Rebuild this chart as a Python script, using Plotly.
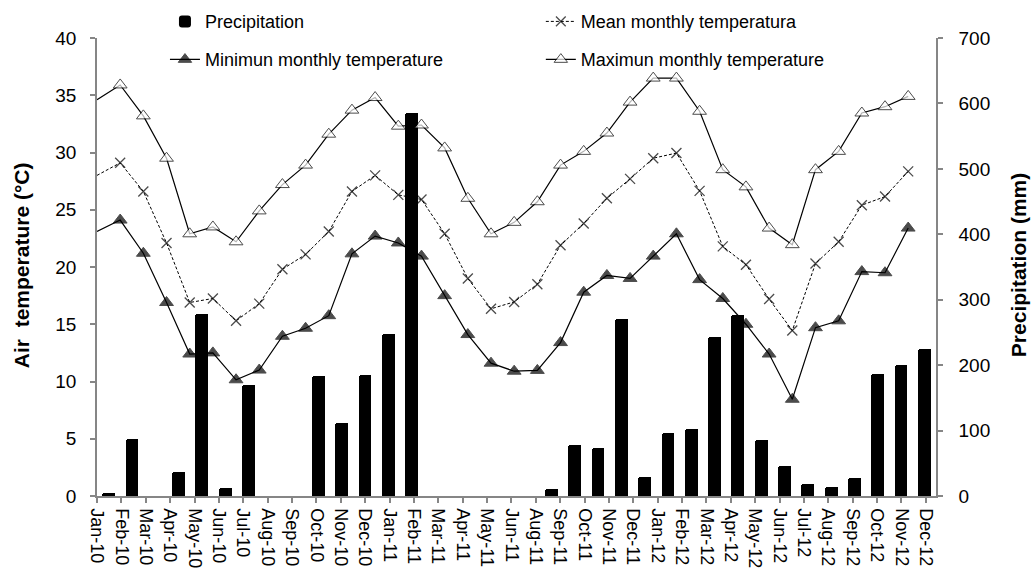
import numpy as np
import plotly.graph_objects as go

# ---- data (36 months, Jan-10 .. Dec-12) ----
months = ["Jan-10", "Feb-10", "Mar-10", "Apr-10", "May-10", "Jun-10", "Jul-10", "Aug-10",
          "Sep-10", "Oct-10", "Nov-10", "Dec-10", "Jan-11", "Feb-11", "Mar-11", "Apr-11",
          "May-11", "Jun-11", "Jul-11", "Aug-11", "Sep-11", "Oct-11", "Nov-11", "Dec-11",
          "Jan-12", "Feb-12", "Mar-12", "Apr-12", "May-12", "Jun-12", "Jul-12", "Aug-12",
          "Sep-12", "Oct-12", "Nov-12", "Dec-12"]

precipitation = [5, 87, 0, 36, 278, 12, 169, 0, 0, 184, 111, 185,
                 248, 585, 0, 0, 0, 0, 0, 10, 78, 74, 271, 29,
                 97, 102, 243, 276, 85, 46, 18, 14, 27, 186, 200, 224]

t_mean = [28.0, 29.1, 26.6, 22.1, 16.9, 17.25, 15.3, 16.8, 19.8, 21.1, 23.1, 26.6,
          28.0, 26.3, 25.9, 22.9, 19.0, 16.35, 16.95, 18.5, 21.9, 23.8, 26.0, 27.7,
          29.5, 29.95, 26.65, 21.8, 20.2, 17.2, 14.45, 20.3, 22.2, 25.4, 26.15, 28.35]

t_min = [23.1, 24.1, 21.2, 16.9, 12.4, 12.5, 10.15, 11.0, 13.95, 14.65, 15.75, 21.15,
         22.7, 22.1, 20.95, 17.5, 14.1, 11.6, 10.9, 10.97, 13.4, 17.8, 19.26, 19.0,
         20.95, 22.9, 18.9, 17.25, 15.0, 12.4, 8.45, 14.7, 15.3, 19.6, 19.5, 23.4]

t_max = [34.6, 35.9, 33.2, 29.5, 22.9, 23.5, 22.2, 24.9, 27.2, 28.9, 31.6, 33.7,
         34.8, 32.3, 32.4, 30.4, 26.0, 22.9, 23.9, 25.7, 28.9, 30.1, 31.7, 34.4,
         36.5, 36.5, 33.6, 28.5, 27.0, 23.4, 21.95, 28.5, 30.1, 33.45, 34.0, 34.9]

# axis labels as printed on the original (Jul-11 label absent)
tick_labels = ["Jan-10", "Feb-10", "Mar-10", "Apr-10", "May-10", "Jun-10", "Jul-10", "Aug-10",
               "Sep-10", "Oct-10", "Nov-10", "Dec-10", "Jan-11", "Feb-11", "Mar-11", "Apr-11",
               "May-11", "Jun-11", "Aug-11", "Sep-11", "Oct-11", "Nov-11", "Dec-11", "Jan-12",
               "Feb-12", "Mar-12", "Apr-12", "May-12", "Jun-12", "Jul-12", "Aug-12", "Sep-12",
               "Oct-12", "Nov-12", "Dec-12"]

# ---- positions via axis scales ----
n = len(months)
idx = np.arange(n)
bar_x = idx + 0.5                      # bars centred in their category (x axis: 0..36)
LABEL_SPAN = 34.42                     # label axis spans this many label steps
label_step = n / LABEL_SPAN
label_pos = np.arange(len(tick_labels)) * label_step
LINE_SPAN = 36.2                       # line axis (x2) range

FONT = "Liberation Sans, Arial, sans-serif"
AX = "#868686"
mk_sizes = [0] + [12] * (n - 1)
x_sizes = [0] + [10] * (n - 1)

fig = go.Figure()

fig.add_trace(go.Bar(
    x=bar_x, y=precipitation, name="Precipitation",
    marker=dict(color="black", line=dict(width=0), cornerradius=2),
    width=0.55, xaxis="x", yaxis="y", legend="legend", showlegend=True,
))

fig.add_trace(go.Scatter(
    x=idx, y=t_mean, name="Mean monthly temperatura", mode="lines+markers",
    line=dict(color="black", width=1, dash="3px,2px"),
    marker=dict(symbol="x-thin", size=x_sizes, line=dict(color="black", width=1.3)),
    xaxis="x2", yaxis="y2", legend="legend2", showlegend=True,
))

fig.add_trace(go.Scatter(
    x=idx, y=t_min, name="Minimun monthly temperature", mode="lines+markers",
    line=dict(color="black", width=1.2),
    marker=dict(symbol="triangle-up", size=mk_sizes, color="black",
                line=dict(color="black", width=1)),
    xaxis="x2", yaxis="y2", legend="legend3", showlegend=True,
))

fig.add_trace(go.Scatter(
    x=idx, y=t_max, name="Maximun monthly temperature", mode="lines+markers",
    line=dict(color="black", width=1.2),
    marker=dict(symbol="triangle-up", size=mk_sizes, color="white",
                line=dict(color="black", width=1)),
    xaxis="x2", yaxis="y2", legend="legend4", showlegend=True,
))

legend_common = dict(bgcolor="rgba(0,0,0,0)", font=dict(family=FONT, size=18, color="black"),
                     xanchor="left", yanchor="middle", orientation="v", visible=True)

fig.update_layout(
    width=1031, height=570,
    showlegend=True,
    margin=dict(l=97, r=95, t=38, b=74, autoexpand=False),
    paper_bgcolor="white", plot_bgcolor="white",
    font=dict(family=FONT, size=19, color="black"),
    bargap=0,
    xaxis=dict(
        range=[0, n], tickmode="array", tickvals=label_pos, ticktext=tick_labels,
        tickangle=90, tickfont=dict(size=18), ticks="outside", ticklen=5, tickcolor=AX,
        tickwidth=1.5, showline=True, linecolor=AX, linewidth=1.5, showgrid=False,
        zeroline=False, ticklabelstandoff=2, automargin=False,
    ),
    xaxis2=dict(range=[0, LINE_SPAN], overlaying="x", visible=False),
    yaxis=dict(
        range=[0, 700], dtick=100, side="right", ticks="outside", ticklen=5,
        tickcolor=AX, tickwidth=1.5, showline=True, linecolor=AX, linewidth=1.5,
        showgrid=False, zeroline=False, ticklabelstandoff=12, automargin=False,
    ),
    yaxis2=dict(
        range=[0, 40], dtick=5, side="left", overlaying="y", anchor="x",
        ticks="outside", ticklen=5, tickcolor=AX, tickwidth=1.5, showline=True,
        linecolor=AX, linewidth=1.5, showgrid=False, zeroline=False,
        ticklabelstandoff=10, automargin=False,
    ),
    legend=dict(x=0.081, y=1.0356, **legend_common),
    legend2=dict(x=0.529, y=1.0356, **legend_common),
    legend3=dict(x=0.081, y=0.9526, **legend_common),
    legend4=dict(x=0.529, y=0.9526, **legend_common),
    annotations=[
        dict(text="<b>Air  temperature (°C)</b>", xref="paper", yref="paper",
             x=-0.0906, y=0.504, textangle=-90, showarrow=False,
             font=dict(family=FONT, size=21, color="black"), xanchor="center", yanchor="middle"),
        dict(text="<b>Precipitation (mm)</b>", xref="paper", yref="paper",
             x=1.0977, y=0.504, textangle=-90, showarrow=False,
             font=dict(family=FONT, size=21, color="black"), xanchor="center", yanchor="middle"),
    ],
)

fig.write_html("out.html", config={"displayModeBar": False},
               post_script="document.body.style.margin='0';document.body.style.padding='0';")
